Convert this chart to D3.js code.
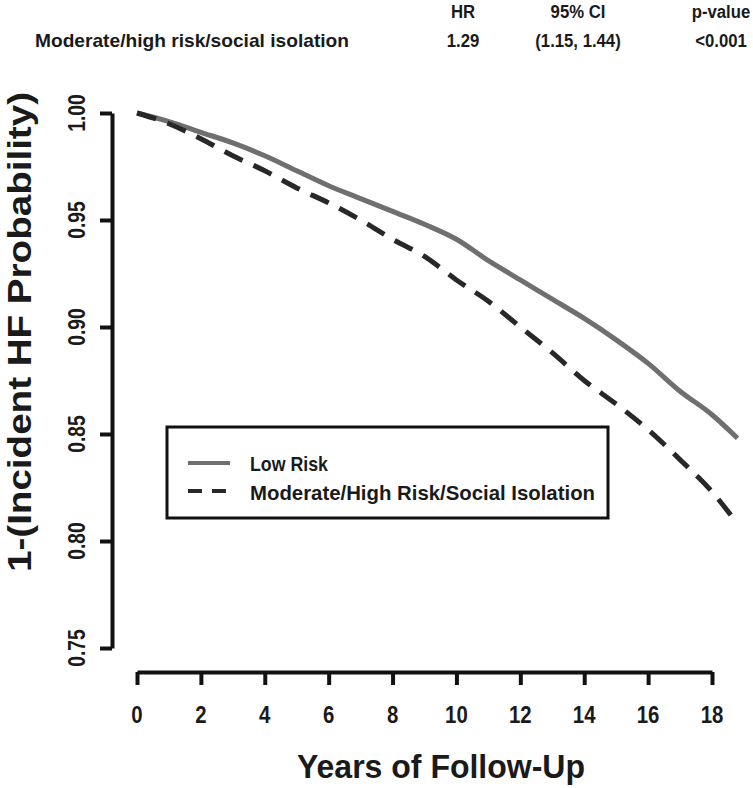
<!DOCTYPE html>
<html>
<head>
<meta charset="utf-8">
<script src="https://cdn.jsdelivr.net/npm/d3@7"></script>
<style>
  html, body { margin: 0; padding: 0; background: #fff; }
  svg { display: block; }
  text { font-family: "Liberation Sans", Arial, sans-serif; font-weight: bold; fill: #1a1a1a; }
</style>
</head>
<body>
<svg id="chart" width="753" height="788"></svg>
<script>
// datos
const years = [0, 1, 2, 3, 4, 5, 6, 7, 8, 9, 10, 11, 12, 13, 14, 15, 16, 17, 18, 18.8];
const lowRisk = [1.000, 0.996, 0.991, 0.986, 0.980, 0.973, 0.966, 0.960, 0.954, 0.948,
                 0.941, 0.931, 0.922, 0.913, 0.904, 0.894, 0.883, 0.870, 0.859, 0.848];
const modHigh = [1.000, 0.995, 0.988, 0.980, 0.973, 0.965, 0.958, 0.950, 0.941, 0.933,
                 0.922, 0.912, 0.900, 0.888, 0.875, 0.864, 0.852, 0.838, 0.823, 0.808];

const xTicks = [0, 2, 4, 6, 8, 10, 12, 14, 16, 18];
const yTicks = [0.75, 0.80, 0.85, 0.90, 0.95, 1.00];

const tableHeader = ['HR', '95% CI', 'p-value'];
const tableRow = ['Moderate/high risk/social isolation', '1.29', '(1.15, 1.44)', '<0.001'];
const legendLabels = ['Low Risk', 'Moderate/High Risk/Social Isolation'];

const svg = d3.select('#chart');

const x = d3.scaleLinear().domain([0, 18]).range([137, 712]);
const y = d3.scaleLinear().domain([0.75, 1.00]).range([648, 113]);

// texto comprimido (la fuente original es estrecha)
function narrowText(g, tx, ty, str, size, sx, rot, anchor) {
    return g.append('text')
        .attr('transform', `translate(${tx},${ty}) rotate(${rot || 0}) scale(${sx},1)`)
        .attr('text-anchor', anchor || 'middle')
        .attr('font-size', size)
        .text(str);
}

// TABLA SUPERIOR
const colX = [463, 578, 721];
tableHeader.forEach((h, i) => narrowText(svg, colX[i], 18, h, 19, 0.88));
svg.append('text')
    .attr('x', 35).attr('y', 47)
    .attr('font-size', 19)
    .attr('textLength', 314)
    .attr('lengthAdjust', 'spacingAndGlyphs')
    .text(tableRow[0]);
tableRow.slice(1).forEach((v, i) => narrowText(svg, colX[i], 47, v, 19, 0.88));

// EJE X
const xAxis = svg.append('g')
    .attr('transform', 'translate(0,672)')
    .call(d3.axisBottom(x).tickValues(xTicks).tickSize(13).tickSizeOuter(0).tickFormat(''));
xAxis.selectAll('path, line').attr('stroke', '#111').attr('stroke-width', 4);
xTicks.forEach(t => narrowText(svg, x(t), 723, String(t), 24, 0.85));

// EJE Y
const yAxis = svg.append('g')
    .attr('transform', 'translate(112,0)')
    .call(d3.axisLeft(y).tickValues(yTicks).tickSize(12).tickSizeOuter(0).tickFormat(''));
yAxis.selectAll('path, line').attr('stroke', '#111').attr('stroke-width', 4);
yTicks.forEach(t => narrowText(svg, 85, y(t), d3.format('.2f')(t), 24, 0.8, -90));

// títulos
svg.append('text')
    .attr('transform', 'translate(31,332) rotate(-90)')
    .attr('text-anchor', 'middle')
    .attr('font-size', 34)
    .attr('textLength', 480)
    .attr('lengthAdjust', 'spacingAndGlyphs')
    .text('1-(Incident HF Probability)');
svg.append('text')
    .attr('x', 441).attr('y', 778)
    .attr('text-anchor', 'middle')
    .attr('font-size', 34)
    .attr('textLength', 288)
    .attr('lengthAdjust', 'spacingAndGlyphs')
    .text('Years of Follow-Up');

// CURVAS
const line = d3.line()
    .x(d => x(d[0]))
    .y(d => y(d[1]))
    .curve(d3.curveMonotoneX);

svg.append('path')
    .datum(d3.zip(years, lowRisk))
    .attr('d', line)
    .attr('fill', 'none')
    .attr('stroke', '#6f6f6f')
    .attr('stroke-width', 5)
    .attr('stroke-linejoin', 'round');

svg.append('path')
    .datum(d3.zip(years, modHigh))
    .attr('d', line)
    .attr('fill', 'none')
    .attr('stroke', '#282828')
    .attr('stroke-width', 5)
    .attr('stroke-dasharray', '20,12');

// LEYENDA
const legend = svg.append('g');
legend.append('rect')
    .attr('x', 167).attr('y', 427)
    .attr('width', 441).attr('height', 91)
    .attr('fill', '#fff')
    .attr('stroke', '#111')
    .attr('stroke-width', 3);
legend.append('line')
    .attr('x1', 188).attr('x2', 230).attr('y1', 463).attr('y2', 463)
    .attr('stroke', '#6f6f6f').attr('stroke-width', 4);
legend.append('line')
    .attr('x1', 188).attr('x2', 230).attr('y1', 491).attr('y2', 491)
    .attr('stroke', '#282828').attr('stroke-width', 4)
    .attr('stroke-dasharray', '14,10');
legend.append('text')
    .attr('x', 250).attr('y', 471)
    .attr('font-size', 21)
    .attr('textLength', 78)
    .attr('lengthAdjust', 'spacingAndGlyphs')
    .text(legendLabels[0]);
legend.append('text')
    .attr('x', 250).attr('y', 500)
    .attr('font-size', 21)
    .attr('textLength', 345)
    .attr('lengthAdjust', 'spacingAndGlyphs')
    .text(legendLabels[1]);
</script>
</body>
</html>
